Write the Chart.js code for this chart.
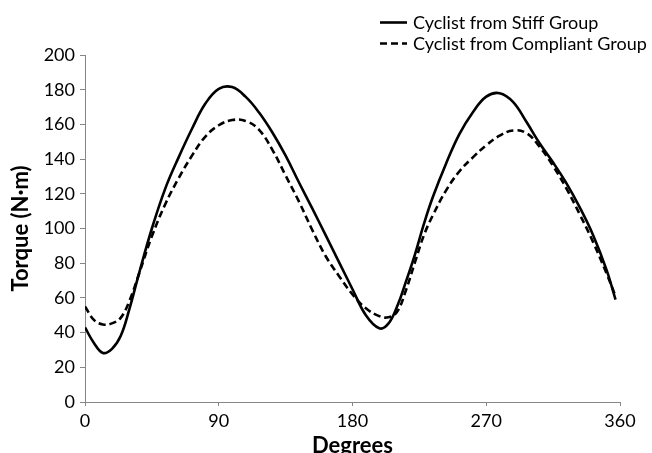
<!DOCTYPE html>
<html>
<head>
<meta charset="utf-8">
<script src="https://cdn.jsdelivr.net/npm/chart.js@4/dist/chart.umd.min.js"></script>
<style>
  html, body { margin: 0; padding: 0; background: #fff; }
  #wrap { width: 652px; height: 453px; }
</style>
</head>
<body>
<div id="wrap"><canvas id="torque_chart" width="652" height="453"></canvas></div>
<script>
// crank angle (degrees) and torque (N·m)
const degrees = [0, 6, 12, 18, 24, 30, 36, 45, 54, 63, 72, 81, 90, 99, 108, 117, 126, 135, 144, 153, 162, 171,
                 180, 189, 198, 204, 210, 216, 222, 228, 234, 243, 252, 261, 270, 279, 288, 297, 306, 315, 324,
                 333, 342, 351, 357];
const stiffTorque = [43, 34, 28.3, 30.5, 38, 54, 73, 100, 123, 141, 157.5, 172, 180.5, 181.5, 176, 167, 155.5,
                     142, 126.5, 111.5, 96, 80.5, 65, 50, 42.5, 45, 55, 69.5, 85, 102.5, 118, 137.5, 154.5, 167,
                     176, 178, 173, 161.5, 149, 138, 126, 112, 96, 76, 59];
const compliantTorque = [55, 47.3, 44.7, 45.3, 48.5, 58.5, 73, 95.5, 114, 129, 142, 153, 159.5, 162.5, 162, 157,
                         145.5, 130.5, 115.5, 99, 84, 72.5, 62, 54, 49.5, 48.8, 52, 64.5, 80.5, 96, 107.5, 122,
                         133, 141, 148, 153.5, 156.5, 155, 147, 136, 123, 108, 92, 74, 61];
const seriesNames = ['Cyclist from Stiff Group', 'Cyclist from Compliant Group'];
const xTickValues = [0, 90, 180, 270, 360];

const axisGrey = 'rgb(134, 134, 134)';
const tickFont = { family: 'Lato', size: 18 };
const titleFont = { family: 'Lato', size: 22, weight: 'bold' };

function toPoints(values) {
    return degrees.map((d, i) => ({ x: d, y: values[i] }));
}

// two stacked legend rows at top right, drawn from the datasets
const sideLegend = {
    id: 'sideLegend',
    afterDraw(chart) {
        const ctx = chart.ctx;
        const rows = [22.5, 43.5];
        ctx.save();
        chart.data.datasets.forEach((ds, i) => {
            const y = rows[i];
            ctx.beginPath();
            ctx.setLineDash(ds.borderDash || []);
            ctx.lineWidth = ds.borderWidth;
            ctx.strokeStyle = ds.borderColor;
            ctx.moveTo(380, y);
            ctx.lineTo(407, y);
            ctx.stroke();
            ctx.setLineDash([]);
            ctx.fillStyle = '#000';
            ctx.font = '18px Lato';
            ctx.textBaseline = 'middle';
            ctx.fillText(ds.label, 413, y + 1);
        });
        ctx.restore();
    }
};

const torqueChart = new Chart(document.getElementById('torque_chart').getContext('2d'), {
    type: 'line',
    data: {
        datasets: [{
            label: seriesNames[0],
            data: toPoints(stiffTorque),
            borderColor: '#000',
            borderWidth: 2.6,
            tension: 0.4,
            pointRadius: 0
        }, {
            label: seriesNames[1],
            data: toPoints(compliantTorque),
            borderColor: '#000',
            borderWidth: 2.6,
            borderDash: [7, 4],
            tension: 0.4,
            pointRadius: 0
        }]
    },
    options: {
        responsive: false,
        animation: false,
        layout: { padding: { top: 55, right: 32, bottom: 0, left: 0 } },
        plugins: {
            legend: { display: false },
            tooltip: { enabled: false }
        },
        scales: {
            x: {
                type: 'linear',
                min: 0,
                max: 360,
                afterBuildTicks: (scale) => { scale.ticks = xTickValues.map(v => ({ value: v })); },
                afterFit: (scale) => { scale.height = 51; },
                grid: { display: true, drawOnChartArea: false, tickLength: 4, color: axisGrey },
                border: { color: axisGrey, width: 1 },
                ticks: { font: tickFont, color: '#000', padding: 4, maxRotation: 0 },
                title: { display: true, text: 'Degrees', font: titleFont, color: '#000', padding: { top: 0, bottom: -6 } }
            },
            y: {
                min: 0,
                max: 200,
                ticks: { stepSize: 20, font: tickFont, color: '#000', padding: 5 },
                afterFit: (scale) => { scale.width = 85; },
                grid: { display: true, drawOnChartArea: false, tickLength: 5, color: axisGrey },
                border: { color: axisGrey, width: 1 },
                title: { display: true, text: 'Torque (N·m)', font: titleFont, color: '#000', padding: { top: 8, bottom: 0 } }
            }
        }
    },
    plugins: [sideLegend]
});
</script>
</body>
</html>
